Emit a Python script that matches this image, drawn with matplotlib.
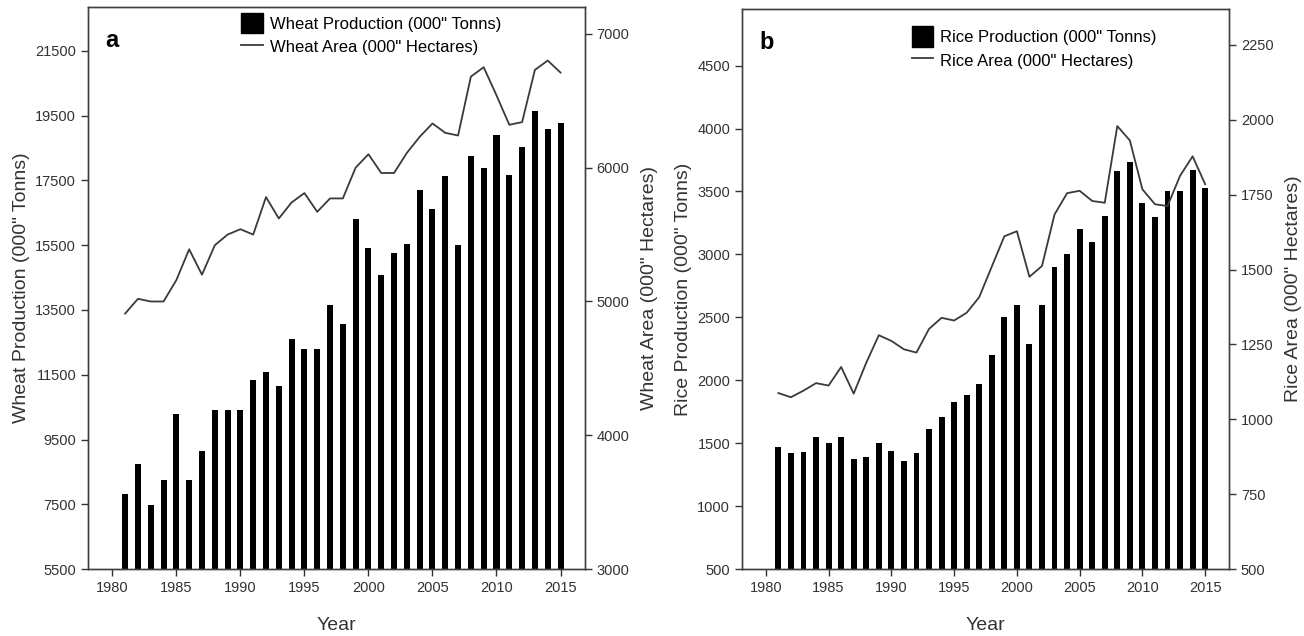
import matplotlib
matplotlib.use('Agg')
from matplotlib import pyplot as plt
from matplotlib.patches import Patch
from matplotlib.lines import Line2D
import numpy as np

plt.rcParams['font.family'] = ['Liberation Sans', 'DejaVu Sans']

years = list(range(1981, 2016))

# wheat, values
wheat_prod = [7830, 8760, 7480, 8240, 10290, 8240, 9160, 10420, 10420, 10400,
              11350, 11600, 11140, 12610, 12310, 12310, 13640, 13060, 16310, 15410,
              14590, 15250, 15540, 17200, 16620, 17630, 15490, 18250, 17870, 18890,
              17680, 18520, 19630, 19080, 19280]
wheat_area = [4910, 5020, 5000, 5000, 5160, 5390, 5200, 5420, 5500, 5540,
              5500, 5780, 5620, 5740, 5810, 5670, 5770, 5770, 6000, 6100,
              5960, 5960, 6110, 6230, 6330, 6260, 6240, 6680, 6750, 6540,
              6320, 6340, 6730, 6800, 6710]

# rice, values
rice_prod = [1473, 1425, 1431, 1552, 1500, 1552, 1373, 1389, 1500, 1441,
             1362, 1421, 1611, 1706, 1825, 1883, 1971, 2198, 2505, 2595,
             2288, 2600, 2897, 3002, 3201, 3095, 3306, 3663, 3732, 3405,
             3298, 3500, 3500, 3669, 3524]
rice_area = [1088, 1074, 1096, 1121, 1113, 1175, 1086, 1189, 1281, 1262,
             1234, 1223, 1302, 1339, 1330, 1356, 1408, 1510, 1611, 1628,
             1476, 1512, 1684, 1755, 1763, 1729, 1723, 1979, 1931, 1768,
             1718, 1712, 1813, 1878, 1785]

xticks = [1980, 1985, 1990, 1995, 2000, 2005, 2010, 2015]

fig = plt.figure(figsize=(13.04, 6.36), dpi=100)

spine_col = '#404040'


def panel(rect, prod, area, ylim1, yt1, ylim2, yt2, lab1, lab2, leg1, leg2,
          letter, leg_anchor):
    ax = fig.add_axes(rect)
    ax.bar(years, prod, width=0.47, color='black')
    ax.set_ylim(*ylim1)
    ax.set_yticks(yt1)
    ax.set_xlim(1978.1, 2016.9)
    ax.set_xticks(xticks)
    ax.set_xlabel('Year', fontsize=14, labelpad=16, color='#333333')
    ax.set_ylabel(lab1, fontsize=14, color='#333333')
    ax2 = ax.twinx()
    ax2.plot(years, area, color='#3a3a3a', lw=1.3)
    ax2.set_ylim(*ylim2)
    ax2.set_yticks(yt2)
    ax2.set_ylabel(lab2, fontsize=14, color='#333333', labelpad=8)
    for a in (ax, ax2):
        for s in a.spines.values():
            s.set_color(spine_col)
            s.set_linewidth(1.0)
        a.tick_params(labelsize=10.5, colors='#333333', length=5, width=1, direction='out')
    ax.text(0.035, 0.94, letter, transform=ax.transAxes, fontsize=17,
            fontweight='bold', va='center', ha='left')
    handles = [Patch(facecolor='black', edgecolor='black'),
               Line2D([], [], color='#3a3a3a', lw=1.3)]
    ax2.legend(handles, [leg1, leg2], loc='upper center', bbox_to_anchor=leg_anchor,
               frameon=False, fontsize=12, handlelength=1.3, handleheight=1.5,
               handletextpad=0.4, labelspacing=0.2, borderpad=0.2)
    return ax, ax2


panel([0.0675, 0.105, 0.381, 0.884], wheat_prod, wheat_area,
      (5500, 22850), range(5500, 21501, 2000),
      (3000, 7200), range(3000, 7001, 1000),
      'Wheat Production (000" Tonns)', 'Wheat Area (000" Hectares)',
      'Wheat Production (000" Tonns)', 'Wheat Area (000" Hectares)',
      'a', (0.57, 1.01))

panel([0.569, 0.105, 0.3735, 0.881], rice_prod, rice_area,
      (500, 4950), range(500, 4501, 500),
      (500, 2370), range(500, 2251, 250),
      'Rice Production (000" Tonns)', 'Rice Area (000" Hectares)',
      'Rice Production (000" Tonns)', 'Rice Area (000" Hectares)',
      'b', (0.60, 0.99))

plt.savefig('out.png', dpi=100)
